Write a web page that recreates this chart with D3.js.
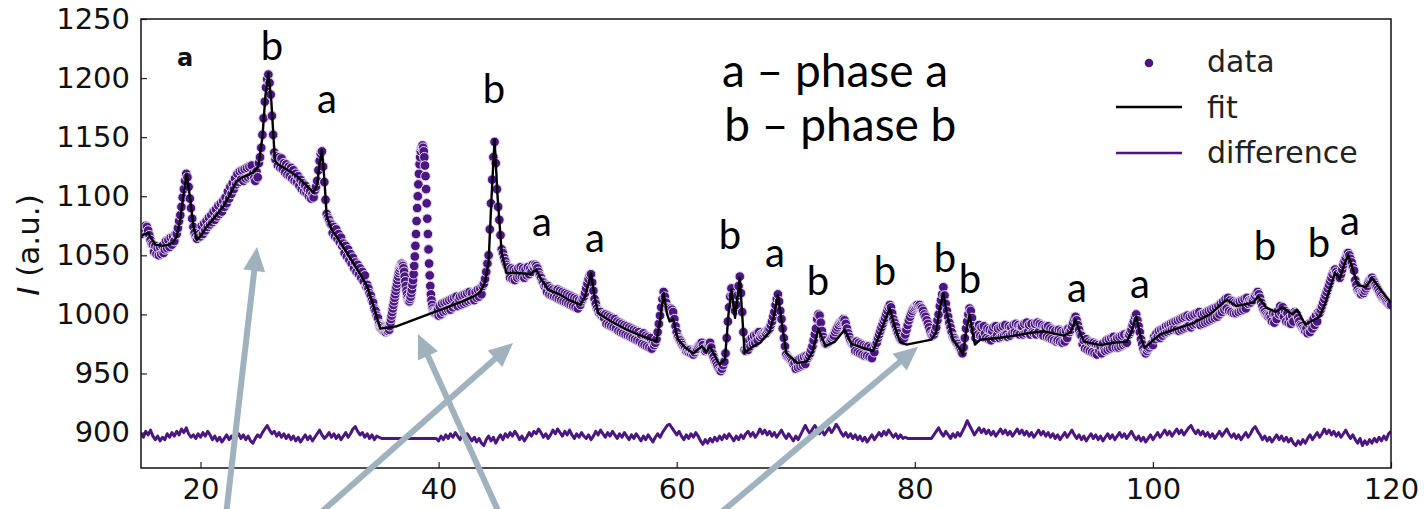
<!DOCTYPE html>
<html><head><meta charset="utf-8">
<script src="https://cdn.jsdelivr.net/npm/d3@7"></script>
<style>body{margin:0;background:#fff}svg{display:block}</style>
</head><body>
<svg id="c" width="1424" height="509"></svg>
<script>
// ---- data (intensity) ----
const dataStart = 15, dataStep = 0.1;
const dataY = [
1068,1070,1072,1073,1075,1074,1071,1067,1063,1060,
1059,1053,1058,1051,1056,1050,1057,1051,1058,1052,
1055,1062,1056,1063,1057,1065,1059,1066,1062,1068,
1068,1073,1079,1084,1091,1099,1106,1113,1119,1116,
1108,1098,1090,1081,1074,1069,1066,1064,1066,1068,
1066,1075,1068,1077,1071,1079,1074,1082,1076,1084,
1078,1087,1080,1089,1083,1092,1085,1094,1087,1096,
1091,1099,1094,1104,1098,1108,1102,1111,1106,1115,
1110,1119,1112,1121,1114,1122,1113,1123,1115,1124,
1116,1125,1117,1126,1119,1115,1113,1121,1116,1128,
1133,1141,1152,1166,1180,1192,1199,1203,1196,1186,
1168,1152,1137,1131,1134,1126,1133,1124,1132,1123,
1128,1120,1127,1118,1125,1117,1124,1115,1122,1113,
1119,1112,1117,1109,1114,1106,1111,1104,1109,1103,
1106,1100,1104,1098,1102,1099,1105,1108,1113,1122,
1130,1136,1138,1125,1112,1097,1085,1082,1080,1077,
1076,1069,1074,1066,1072,1064,1068,1061,1065,1058,
1060,1052,1058,1049,1055,1046,1051,1043,1048,1039,
1044,1036,1042,1034,1039,1031,1036,1028,1033,1024,
1025,1022,1018,1016,1012,1010,1005,1003,999,997,
992,989,988,987,986,987,988,988,989,990,
996,1002,1008,1014,1020,1026,1032,1037,1041,1043,
1041,1036,1028,1020,1014,1011,1013,1018,1025,1034,
1049,1068,1090,1110,1127,1138,1142,1141,1133,1117,
1094,1068,1043,1024,1012,1005,1002,1001,1001,1002,
999,1007,1000,1009,1002,1010,1003,1011,1004,1012,
1004,1013,1006,1014,1008,1015,1007,1013,1015,1008,
1016,1009,1017,1010,1018,1011,1019,1012,1018,1013,
1012,1019,1014,1021,1015,1022,1017,1024,1026,1030,
1036,1043,1050,1072,1094,1114,1133,1146,1128,1106,
1091,1080,1067,1055,1052,1048,1045,1042,1040,1037,
1031,1039,1030,1038,1029,1037,1031,1039,1032,1040,
1032,1039,1031,1038,1033,1040,1034,1039,1036,1042,
1040,1042,1041,1039,1036,1033,1031,1028,1027,1024,
1025,1019,1024,1017,1022,1016,1021,1015,1020,1014,
1021,1013,1020,1012,1019,1011,1018,1010,1017,1009,
1016,1008,1015,1007,1014,1006,1013,1005,1012,1008,
1011,1013,1015,1018,1022,1026,1030,1033,1034,1027,
1020,1013,1009,1005,1003,1001,1002,999,1000,997,
1000,992,999,991,998,990,997,989,996,988,
994,986,993,985,992,984,991,983,990,982,
989,981,988,980,987,979,986,978,985,977,
983,975,984,974,982,973,981,972,980,971,
976,974,976,979,985,992,999,1006,1013,1019,
1015,1010,1006,1005,1004,1005,1004,1002,996,990,
985,981,979,978,976,974,972,971,969,970,
968,970,967,969,966,968,970,971,973,974,
975,976,974,971,969,970,972,975,976,972,
967,964,961,959,957,955,953,952,954,957,
960,967,980,994,1006,1015,1022,1016,1008,1003,
1008,1016,1024,1032,1018,1002,985,970,969,972,
970,978,973,980,975,982,976,983,978,985,
981,983,982,984,985,984,986,987,988,991,
994,998,1002,1008,1013,1017,1011,1003,996,988,
980,973,966,964,963,962,961,960,958,959,
954,961,955,962,956,963,957,964,958,965,
963,965,967,970,973,978,983,988,996,1000,
999,993,986,981,978,975,975,976,977,978,
979,981,982,985,987,989,991,993,994,995,
996,995,992,988,984,981,978,976,975,974,
969,977,968,976,967,975,966,974,965,973,
965,973,964,972,963,970,968,974,976,980,
983,986,989,992,995,997,1000,1003,1006,1008,
1006,1001,996,993,990,986,984,981,979,978,
978,980,983,987,991,995,998,1001,1003,1005,
1006,1007,1008,1007,1008,1006,1005,1003,1000,998,
995,992,989,986,983,982,983,986,989,995,
1000,1007,1012,1017,1023,1016,1009,1003,998,993,
989,985,981,980,978,976,975,973,971,969,
967,972,980,988,994,1000,1005,1003,997,990,
986,980,988,983,991,982,989,981,990,984,
980,988,979,987,978,986,989,980,990,982,
988,980,989,981,990,982,991,983,981,990,
982,989,984,991,985,992,984,991,983,990,
990,983,992,984,993,985,991,983,992,985,
984,992,983,993,985,992,983,991,982,990,
989,981,990,980,988,979,987,978,986,977,
978,987,977,986,976,985,977,986,980,988,
985,987,990,993,996,998,995,991,987,983,
982,975,978,971,979,970,977,969,976,968,
976,967,975,966,974,969,973,967,975,970,
969,978,970,979,971,980,972,981,978,972,
980,972,981,973,982,974,983,975,976,983,
983,985,987,991,994,998,1000,995,990,985,
979,975,971,968,967,969,971,972,974,975,
974,981,979,984,981,986,980,987,982,988,
984,990,985,991,986,992,987,993,988,994,
987,995,986,996,987,997,988,998,989,999,
990,998,989,999,991,1000,992,1001,993,1002,
991,1000,992,1001,993,1002,994,1003,995,1004,
996,1005,997,1006,998,1007,1000,1009,1002,1011,
1004,1013,1005,1014,1003,1012,1002,1011,1001,1010,
1001,1010,1002,1011,1003,1012,1004,1013,1005,1014,
1009,1012,1010,1013,1012,1015,1016,1018,1019,1017,
1014,1010,1007,1004,1002,1000,999,998,999,997,
994,1001,993,1000,996,1003,1000,1007,1001,1006,
998,1003,994,1001,993,997,992,999,994,1002,
1001,1000,997,994,991,990,988,987,986,988,
984,992,985,993,988,996,991,999,994,1002,
1001,1004,1007,1010,1013,1016,1019,1022,1025,1028,
1031,1034,1037,1038,1036,1034,1032,1031,1034,1038,
1042,1045,1048,1051,1052,1050,1047,1044,1040,1037,
1029,1025,1021,1019,1018,1017,1019,1018,1020,1022,
1024,1027,1029,1030,1031,1029,1027,1025,1023,1021,
1019,1017,1016,1014,1013,1012,1011,1010,1009,1008,
1008
];
// extra points in the unfitted 35-40 region (x = 35.05, 35.15, ...)
const fineStart = 35.05, fineStep = 0.1;
const dataFineY = [
990,991,990,989,988,985,986,986,987,993,
999,1005,1011,1017,1023,1029,1035,1039,1042,1042,
1039,1032,1024,1017,1012,1011,1015,1021,1029,1041,
1058,1079,1100,1119,1133,1141,1143,1138,1126,1106,
1081,1055,1033,1017,1008,1003,1001,1002,1003,1004
];
// fit curve vertices [2theta, intensity]
const fitPts = [
[15.0,1066],[15.3,1068],[15.6,1069],[15.9,1064],[16.2,1059],[16.8,1058],[17.3,1059],[17.7,1061],[18.0,1066],[18.3,1080],
[18.55,1100],[18.84,1119],[19.1,1100],[19.4,1075],[19.68,1063],[20.0,1066],[20.5,1074],[21.0,1080],[21.5,1086],[21.9,1091],
[22.4,1100],[23.0,1112],[23.5,1116],[24.0,1118],[24.4,1120],[24.85,1125],[25.2,1150],[25.45,1185],[25.7,1204],[25.95,1180],
[26.25,1130],[26.5,1127],[27.0,1124],[27.5,1121],[28.1,1117],[28.6,1112],[29.1,1107],[29.5,1103],[29.8,1110],[30.0,1128],
[30.2,1139],[30.4,1115],[30.6,1083],[31.0,1072],[31.4,1066],[31.8,1060],[32.3,1052],[32.8,1044],[33.4,1034],[34.0,1024],
[34.5,1008],[35.1,988],[36.5,990],[39.8,1002.6],[40.5,1005],[41.2,1008],[42.0,1011],[42.9,1015],[43.5,1019],[43.9,1027],
[44.2,1045],[44.45,1100],[44.7,1148],[44.95,1100],[45.3,1052],[45.7,1035],[46.8,1035],[47.7,1034],[48.2,1038],[48.6,1030],
[49.2,1021],[50.2,1016.7],[51.0,1012],[51.9,1008],[52.3,1015],[52.8,1035],[53.1,1015],[53.4,1001],[54.5,994],[55.8,987],
[57.0,982],[58.3,977],[58.6,995],[58.9,1018],[59.2,1000],[59.4,994],[59.7,996],[60.1,979],[60.7,972],[61.4,967],
[62.1,973],[62.5,968],[62.8,973],[63.2,965],[63.6,957.5],[64.05,962],[64.35,1000],[64.6,1021],[64.9,997],[65.3,1031],
[65.5,1000],[65.7,967.4],[66.3,972],[67.0,976],[67.8,985],[68.2,1000],[68.5,1016.7],[68.8,995],[69.2,967.4],[70.1,959],
[70.9,960],[71.4,968],[71.9,988],[72.2,980],[72.5,973],[73.3,977],[74.1,987],[74.7,975],[75.5,972],[76.5,969],
[77.2,987],[77.9,1005.5],[78.3,990],[78.75,977],[79.3,974.4],[81.4,978.6],[81.8,985],[82.1,1005],[82.4,1018],[82.7,1000],
[83.2,978.6],[83.7,972],[84.05,966],[84.3,985],[84.6,1000],[84.85,985],[85.05,974.4],[85.5,978.6],[87.0,980],[88.0,981.4],
[89.5,984],[90.8,985.7],[91.6,984],[92.5,982],[93.1,985],[93.5,995.6],[93.9,984],[94.2,977],[95.6,974],[96.7,976],
[97.8,977],[98.2,985],[98.6,998.3],[99.0,980],[99.3,971.6],[100.0,978],[100.6,983],[102.0,988],[103.4,992.7],[104.8,1000],
[106.2,1012.5],[107.0,1007],[108.4,1010],[108.85,1015],[109.5,1006],[110.3,1002],[110.9,1006],[111.7,1000],[112.1,1004],[112.8,991.4],
[114.0,998],[114.5,1010],[114.9,1023],[115.3,1035],[115.7,1030],[116.0,1040],[116.4,1050.5],[116.8,1038],[117.2,1025],[117.9,1023],
[118.4,1031],[119.2,1020],[119.9,1011],[120.0,1010]
];
// difference curve (offset to ~897), step 0.2
const diffStart = 15, diffStep = 0.2;
const diffY = [
899,896,901,898,902,897,894,897,893,896,
894,899,896,900,897,901,898,903,900,904,
899,896,898,895,899,896,900,897,901,898,
894,897,893,896,892,895,898,894,897,893,
896,899,895,898,894,897,893,891,895,898,
896,900,903,906,902,899,901,897,900,896,
899,895,898,894,897,893,896,892,895,898,
894,897,893,896,899,902,898,895,897,900,
896,899,895,898,894,897,900,896,899,903,
905,901,898,900,896,899,895,898,894,897,
896,895,895,895,895,895,895,895,895,895,
895,895,895,895,895,895,895,895,895,895,
895,895,895,895,895,893,897,894,898,895,
899,896,900,897,894,898,895,899,896,893,
896,892,895,891,889,894,897,893,896,891,
895,898,894,899,896,900,897,901,898,894,
897,893,896,900,897,901,899,903,900,896,
899,895,898,902,899,903,900,897,901,898,
902,898,895,899,896,900,897,895,898,894,
897,901,898,902,899,896,900,897,901,898,
895,899,896,900,897,894,898,895,899,896,
893,897,894,898,895,892,896,899,896,900,
903,906,907,904,901,898,901,897,894,898,
895,899,896,900,897,893,890,894,891,895,
892,896,893,897,894,898,895,899,896,893,
897,894,898,895,899,901,897,900,896,899,
903,899,902,898,901,897,900,896,899,902,
898,895,899,896,893,897,894,898,902,906,
902,899,903,906,903,899,902,898,901,904,
900,903,907,904,900,897,900,896,899,895,
898,894,897,893,896,892,895,898,894,897,
900,897,901,898,902,899,896,899,895,898,
895,896,895,895,895,895,895,895,895,895,
895,895,895,898,901,904,900,897,901,898,
895,899,896,900,897,901,905,910,906,902,
898,901,904,900,903,899,902,898,901,897,
900,903,899,902,898,901,897,900,903,899,
902,898,901,897,900,896,899,902,898,901,
897,900,896,899,895,898,894,897,900,896,
899,902,898,895,898,894,897,893,896,899,
895,898,894,897,893,896,899,895,898,894,
897,900,896,899,895,898,901,897,894,897,
893,896,892,895,898,894,897,900,896,899,
902,898,901,897,900,903,899,902,898,901,
904,906,902,899,902,898,901,897,900,896,
899,895,898,901,897,900,903,899,896,899,
895,898,894,897,900,896,899,903,905,901,
898,894,897,893,896,892,895,898,894,897,
893,896,892,895,891,889,893,890,894,891,
895,898,894,897,900,896,899,903,899,902,
898,901,897,900,896,899,902,898,895,898,
894,891,895,889,893,890,894,891,895,892,
896,893,897,894,899,901
];
const xDomain = [15, 120], yDomain = [870, 1250];
const xTicks = [20, 40, 60, 80, 100, 120];
const yTicks = [900, 950, 1000, 1050, 1100, 1150, 1200, 1250];
// peak labels: [letter, 2theta, intensity at baseline]
const peakLabels = [
['b',26.0,1215.3],['a',30.62,1170.5],['b',44.65,1179.0],['a',48.68,1066.6],['a',53.13,1053.0],
['b',64.48,1055.6],['a',68.25,1040.4],['b',71.87,1016.7],['b',77.5,1025.1],['b',82.53,1036.1],
['b',84.63,1018.4],['a',93.62,1010.8],['a',98.91,1014.2],['b',109.41,1046.3],['b',113.95,1048.8],
['a',116.55,1067.4]
];
const boldLabel = ['a', 18.7, 1210.3];
const keyLines = [['a \u2013 phase a', 63.8, 1192.5], ['b \u2013 phase b', 64.0, 1146.9]];
const arrowTails = [[22.14,830.2],[29.87,830.2],[45.16,830.2],[63.47,830.2]];
const arrowTips  = [[24.74,1057.0],[46.25,975.8],[38.27,983.4],[80.27,972.7]];
const legendItems = ['data', 'fit', 'difference'];

// ---- drawing ----
const L = 141, R = 1391, T = 19, B = 468;
const svg = d3.select('#c');
const x = d3.scaleLinear().domain(xDomain).range([L, R]);
const y = d3.scaleLinear().domain(yDomain).range([B, T]);
const purple = '#4b1682';

svg.append('defs').append('clipPath').attr('id', 'clip')
  .append('rect').attr('x', L).attr('y', T).attr('width', R - L).attr('height', B - T);

const dataPts = dataY.map((v, i) => [dataStart + i * dataStep, v])
  .concat(dataFineY.map((v, i) => [fineStart + i * fineStep, v]))
  .sort((a, b) => a[0] - b[0]);
const diffPts = diffY.map((v, i) => [diffStart + i * diffStep, v]);

const plot = svg.append('g').attr('clip-path', 'url(#clip)');
plot.append('g').selectAll('circle').data(dataPts).join('circle')
  .attr('cx', d => x(d[0])).attr('cy', d => y(d[1])).attr('r', 4.8)
  .attr('fill', purple).attr('stroke', '#e6dcf1').attr('stroke-width', 1);

const line = d3.line().x(d => x(d[0])).y(d => y(d[1]));
plot.append('path').datum(fitPts).attr('d', line)
  .attr('fill', 'none').attr('stroke', '#000').attr('stroke-width', 2.4).attr('stroke-linejoin', 'round');
plot.append('path').datum(diffPts).attr('d', line)
  .attr('fill', 'none').attr('stroke', purple).attr('stroke-width', 3).attr('stroke-linejoin', 'round');

// axes
const tickFont = g => g.selectAll('text').attr('font-family', 'DejaVu Sans').attr('font-size', 29).attr('fill', '#111');
svg.append('g').attr('transform', `translate(${L},0)`)
  .call(d3.axisLeft(y).tickValues(yTicks).tickFormat(d3.format('d')).tickSizeInner(-6).tickSizeOuter(0).tickPadding(11))
  .call(g => g.select('.domain').remove())
  .call(g => g.selectAll('line').attr('stroke', '#222').attr('stroke-width', 1.2))
  .call(tickFont);
svg.append('g').attr('transform', `translate(0,${B})`)
  .call(d3.axisBottom(x).tickValues(xTicks).tickFormat(d3.format('d')).tickSizeInner(-6).tickSizeOuter(0).tickPadding(10))
  .call(g => g.select('.domain').remove())
  .call(g => g.selectAll('line').attr('stroke', '#222').attr('stroke-width', 1.2))
  .call(tickFont);
svg.append('rect').attr('x', L).attr('y', T).attr('width', R - L).attr('height', B - T)
  .attr('fill', 'none').attr('stroke', '#111').attr('stroke-width', 1.5);

// y label
const yl = svg.append('text').attr('transform', 'translate(39,245) rotate(-90)')
  .attr('text-anchor', 'middle').attr('font-family', 'DejaVu Sans').attr('font-size', 31).attr('fill', '#111');
yl.append('tspan').attr('font-style', 'italic').text('I');
yl.append('tspan').text(' (a.u.)');

// legend
const lg = svg.append('g').attr('font-family', 'DejaVu Sans').attr('font-size', 30).attr('fill', '#222');
lg.append('circle').attr('cx', 1149).attr('cy', 63).attr('r', 4.3).attr('fill', purple);
lg.append('line').attr('x1', 1116).attr('x2', 1182).attr('y1', 107).attr('y2', 107).attr('stroke', '#000').attr('stroke-width', 2.4);
lg.append('line').attr('x1', 1116).attr('x2', 1182).attr('y1', 153).attr('y2', 153).attr('stroke', purple).attr('stroke-width', 2.4);
lg.selectAll('text.lt').data(legendItems).join('text').attr('class', 'lt')
  .attr('x', 1207).attr('y', (d, i) => 72 + i * 45.6).text(d => d);

// peak labels
svg.append('g').selectAll('text').data(peakLabels).join('text')
  .attr('x', d => x(d[1])).attr('y', d => y(d[2])).attr('text-anchor', 'middle')
  .attr('font-family', 'Lato').attr('font-size', 40).attr('fill', '#000').text(d => d[0]);
svg.append('text').attr('x', x(boldLabel[1])).attr('y', y(boldLabel[2])).attr('text-anchor', 'middle')
  .attr('font-family', 'DejaVu Sans').attr('font-weight', 'bold').attr('font-size', 24).attr('fill', '#111').text(boldLabel[0]);
svg.append('g').selectAll('text').data(keyLines).join('text')
  .attr('x', d => x(d[1])).attr('y', d => y(d[2]))
  .attr('font-family', 'Lato').attr('font-size', 46).attr('fill', '#000').text(d => d[0]);

// arrows
const ag = svg.append('g');
arrowTails.forEach((t, i) => {
  const x1 = x(t[0]), y1 = y(t[1]), x2 = x(arrowTips[i][0]), y2 = y(arrowTips[i][1]);
  const dx = x2 - x1, dy = y2 - y1, len = Math.hypot(dx, dy), ux = dx / len, uy = dy / len;
  const hl = 24, hw = 11;
  const bx = x2 - ux * hl, by = y2 - uy * hl;
  ag.append('line').attr('x1', x1).attr('y1', y1).attr('x2', bx + ux * 2).attr('y2', by + uy * 2)
    .attr('stroke', '#9fb2be').attr('stroke-width', 6);
  ag.append('path').attr('d', `M${x2},${y2}L${bx - uy * hw},${by + ux * hw}L${bx + uy * hw},${by - ux * hw}Z`)
    .attr('fill', '#9fb2be');
});
</script>
</body></html>
